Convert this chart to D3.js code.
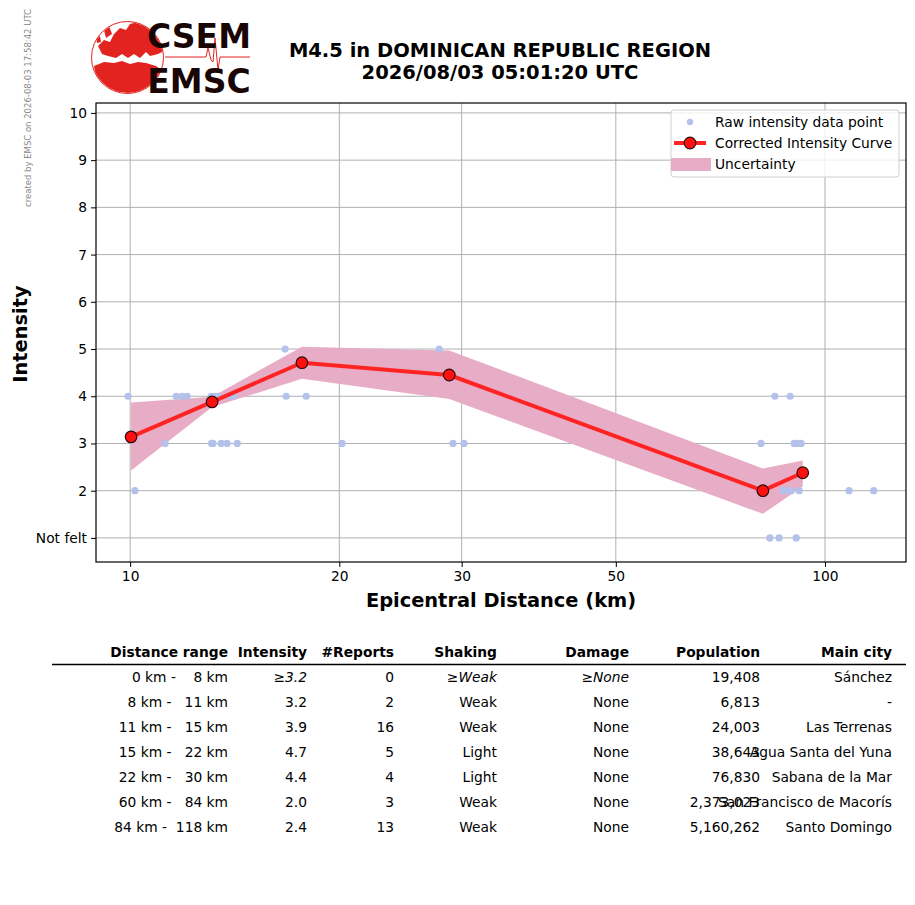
<!DOCTYPE html>
<html lang="en">
<head>
<meta charset="utf-8" />
<title>EMSC intensity</title>
<style>
    body { margin: 0; background: white; font-family: 'DejaVu Sans', sans-serif; }
    .grid line { stroke: #b0b0b0; stroke-width: 1; }
    .tbl text { font-size: 13.8px; fill: #000; white-space: pre; }
    .tbl .hdr { font-weight: bold; }
</style>
<script src="https://d3js.org/d3.v7.min.js"></script>
</head>
<body>
<svg id="vis" width="915" height="905"></svg>
<script>
    // raw reports: distance (km), intensity (1 = not felt)
    var rawDist = [9.93, 10.16, 11.23, 11.65, 11.88, 12.08, 13.08, 13.16, 13.25, 13.52, 13.79, 13.93, 14.11, 14.26,
        13.1, 13.4, 16.71, 16.77, 17.92, 20.18, 27.84, 29.15, 30.23,
        80.9, 81.4, 83.3, 84.7, 85.9, 87.0, 88.5, 89.1, 89.4, 90.3, 90.9, 91.1, 91.8, 92.4, 108.3, 117.5];
    var rawInt = [4, 2, 3, 4, 4, 4, 4, 3, 4, 3, 3, 4, 4, 3,
        3, 4, 5, 4, 4, 3, 5, 3, 3,
        3, 2, 1, 4, 1, 2, 2, 4, 2, 3, 1, 3, 2, 3, 2, 2];

    // corrected curve and uncertainty band
    var curveDist = [10.03, 13.12, 17.67, 28.79, 81.4, 92.9];
    var curveInt = [3.14, 3.88, 4.71, 4.45, 2.0, 2.38];
    var bandUpper = [3.87, 3.99, 5.05, 4.97, 2.47, 2.64];
    var bandLower = [2.43, 3.77, 4.37, 3.94, 1.51, 2.09];

    var xTicks = [10, 20, 30, 50, 100];
    var yTicks = [1, 2, 3, 4, 5, 6, 7, 8, 9, 10];
    var yTickLabels = ["Not felt", "2", "3", "4", "5", "6", "7", "8", "9", "10"];

    // summary table
    var tblHeaders = ["Distance range", "Intensity", "#Reports", "Shaking", "Damage", "Population", "Main city"];
    var rangeFrom = [0, 8, 11, 15, 22, 60, 84];
    var rangeTo = [8, 11, 15, 22, 30, 84, 118];
    var tblIntensity = ["\u22653.2", "3.2", "3.9", "4.7", "4.4", "2.0", "2.4"];
    var tblReports = ["0", "2", "16", "5", "4", "3", "13"];
    var tblShaking = ["\u2265Weak", "Weak", "Weak", "Light", "Light", "Weak", "Weak"];
    var tblDamage = ["\u2265None", "None", "None", "None", "None", "None", "None"];
    var tblPopulation = ["19,408", "6,813", "24,003", "38,643", "76,830", "2,373,023", "5,160,262"];
    var tblCity = ["S\u00e1nchez", "-", "Las Terrenas", "Agua Santa del Yuna", "Sabana de la Mar", "San Francisco de Macor\u00eds", "Santo Domingo"];

    var svg = d3.select("#vis");
    var plot = { left: 96, right: 906, top: 103, bottom: 562 };

    var x = d3.scaleLog().domain([8.93, 130.8]).range([plot.left, plot.right]);
    var y = d3.scaleLinear().domain([0.49, 10.21]).range([plot.bottom, plot.top]);

    // watermark
    svg.append("text").attr("transform", "translate(31,108) rotate(-90)")
        .attr("text-anchor", "middle").attr("font-size", "8.5px").attr("fill", "#888")
        .text("created by EMSC on 2026-08-03 17:58:42 UTC");

    // logo
    var logo = svg.append("g").attr("class", "logo");
    logo.append("clipPath").attr("id", "globe").append("circle").attr("cx", 127.5).attr("cy", 57.5).attr("r", 35.5);
    var map = logo.append("g").attr("clip-path", "url(#globe)");
    // europe
    map.append("path").attr("fill", "#e3231f")
        .attr("d", "M98,46 L104,40 L110,42 L114,34 L120,28 L126,30 L130,24 L138,22 L146,26 L156,30 L164,36 L166,50 L158,54 L150,56 L146,52 L140,58 L134,54 L128,58 L122,54 L116,58 L108,56 L102,54 Z");
    // britain, iberia islands
    map.append("path").attr("fill", "#e3231f")
        .attr("d", "M104,30 L109,26 L112,34 L106,38 Z M96,38 L100,36 L101,42 L97,43 Z");
    // africa
    map.append("path").attr("fill", "#e3231f")
        .attr("d", "M94,66 L104,62 L114,63 L122,61 L130,64 L138,62 L146,63 L156,66 L164,72 L162,84 L152,90 L136,94 L118,92 L104,86 L96,78 Z");
    logo.append("circle").attr("cx", 127.5).attr("cy", 57.5).attr("r", 36)
        .attr("fill", "none").attr("stroke", "#e3231f").attr("stroke-width", 1);
    logo.append("path").attr("fill", "none").attr("stroke", "#e3231f").attr("stroke-width", 1)
        .attr("d", "M165,57 L206,57 L208,48 L211,60 L213,62 L215,38 L218,70 L220,57 L250,57");
    logo.append("text").attr("x", 199).attr("y", 48).attr("text-anchor", "middle")
        .attr("font-size", "33px").attr("font-weight", "bold").attr("fill", "#1a0505").text("CSEM");
    logo.append("text").attr("x", 199).attr("y", 93).attr("text-anchor", "middle")
        .attr("font-size", "33px").attr("font-weight", "bold").attr("fill", "#1a0505").text("EMSC");

    // title
    svg.append("text").attr("x", 500).attr("y", 57).attr("text-anchor", "middle")
        .attr("font-size", "19.5px").attr("font-weight", "bold").text("M4.5 in DOMINICAN REPUBLIC REGION");
    svg.append("text").attr("x", 500).attr("y", 79).attr("text-anchor", "middle")
        .attr("font-size", "19.5px").attr("font-weight", "bold").text("2026/08/03 05:01:20 UTC");

    // grid
    var grid = svg.append("g").attr("class", "grid");
    grid.selectAll("line.gx").data(xTicks).enter().append("line").attr("class", "gx")
        .attr("x1", function (d) { return x(d); }).attr("x2", function (d) { return x(d); })
        .attr("y1", plot.top).attr("y2", plot.bottom);
    grid.selectAll("line.gy").data(yTicks).enter().append("line").attr("class", "gy")
        .attr("x1", plot.left).attr("x2", plot.right)
        .attr("y1", function (d) { return y(d); }).attr("y2", function (d) { return y(d); });

    // uncertainty band
    var bandIdx = d3.range(curveDist.length);
    var area = d3.area()
        .x(function (i) { return x(curveDist[i]); })
        .y0(function (i) { return y(bandLower[i]); })
        .y1(function (i) { return y(bandUpper[i]); });
    svg.append("path").datum(bandIdx).attr("d", area).attr("fill", "#e8adc6");

    // raw points
    svg.append("g").selectAll("circle").data(d3.range(rawDist.length)).enter().append("circle")
        .attr("cx", function (i) { return x(rawDist[i]); })
        .attr("cy", function (i) { return y(rawInt[i]); })
        .attr("r", 3.6).attr("fill", "#b3c1eb");

    // corrected curve
    var line = d3.line().x(function (i) { return x(curveDist[i]); }).y(function (i) { return y(curveInt[i]); });
    svg.append("path").datum(bandIdx).attr("d", line).attr("fill", "none")
        .attr("stroke", "#ff2424").attr("stroke-width", 4).attr("stroke-linejoin", "round");
    svg.append("g").selectAll("circle").data(bandIdx).enter().append("circle")
        .attr("cx", function (i) { return x(curveDist[i]); })
        .attr("cy", function (i) { return y(curveInt[i]); })
        .attr("r", 5.8).attr("fill", "#ff1010").attr("stroke", "#2a0a0a").attr("stroke-width", 1.2);

    // axes
    var xAxis = d3.axisBottom(x).tickValues(xTicks).tickFormat(d3.format("d")).tickSize(5).tickPadding(4);
    var gx = svg.append("g").attr("transform", "translate(0," + plot.bottom + ")").call(xAxis);
    var yAxis = d3.axisLeft(y).tickValues(yTicks).tickFormat(function (d, i) { return yTickLabels[i]; }).tickSize(5).tickPadding(4);
    var gy = svg.append("g").attr("transform", "translate(" + plot.left + ",0)").call(yAxis);
    [gx, gy].forEach(function (g) {
        g.select(".domain").remove();
        g.selectAll(".tick text").attr("font-family", "DejaVu Sans").attr("font-size", "13.8px").attr("fill", "#000");
        g.selectAll(".tick line").attr("stroke", "#000");
    });
    svg.append("rect").attr("x", plot.left).attr("y", plot.top)
        .attr("width", plot.right - plot.left).attr("height", plot.bottom - plot.top)
        .attr("fill", "none").attr("stroke", "#000").attr("stroke-width", 1.2);

    svg.append("text").attr("x", 501).attr("y", 607).attr("text-anchor", "middle")
        .attr("font-size", "19.4px").attr("font-weight", "bold").text("Epicentral Distance (km)");
    svg.append("text").attr("transform", "translate(27,334) rotate(-90)").attr("text-anchor", "middle")
        .attr("font-size", "19.4px").attr("font-weight", "bold").text("Intensity");

    // legend
    var leg = svg.append("g").attr("transform", "translate(671,110)");
    leg.append("rect").attr("width", 228).attr("height", 67).attr("rx", 3)
        .attr("fill", "white").attr("fill-opacity", 0.8).attr("stroke", "#d0d0d0");
    leg.append("circle").attr("cx", 19).attr("cy", 12).attr("r", 3.2).attr("fill", "#b3c1eb");
    leg.append("line").attr("x1", 3).attr("x2", 35).attr("y1", 33).attr("y2", 33)
        .attr("stroke", "#ff2424").attr("stroke-width", 4);
    leg.append("circle").attr("cx", 19).attr("cy", 33).attr("r", 5.8)
        .attr("fill", "#ff1010").attr("stroke", "#2a0a0a").attr("stroke-width", 1.2);
    leg.append("rect").attr("x", 0).attr("y", 48).attr("width", 40).attr("height", 13).attr("fill", "#e8adc6");
    var legLabels = ["Raw intensity data point", "Corrected Intensity Curve", "Uncertainty"];
    leg.selectAll("text.lab").data(legLabels).enter().append("text").attr("class", "lab")
        .attr("x", 44).attr("y", function (d, i) { return 17 + i * 21; })
        .attr("font-size", "13.8px").text(function (d) { return d; });

    // table
    var tbl = svg.append("g").attr("class", "tbl");
    var colRight = [228, 307, 394, 497, 629, 760, 892];
    tbl.selectAll("text.hdr").data(tblHeaders).enter().append("text").attr("class", "hdr")
        .attr("x", function (d, i) { return colRight[i]; }).attr("y", 657)
        .attr("text-anchor", "end").text(function (d) { return d; });
    tbl.append("line").attr("x1", 52).attr("x2", 906).attr("y1", 664.5).attr("y2", 664.5)
        .attr("stroke", "#000").attr("stroke-width", 1.3);

    var rowY = function (i) { return 682 + i * 25; };
    var rangeText = rangeFrom.map(function (f, i) {
        return f + " km -  " + String(rangeTo[i]).padStart(3, " ") + " km";
    });
    var cols = [rangeText, tblIntensity, tblReports, tblShaking, tblDamage, tblPopulation, tblCity];
    cols.forEach(function (col, c) {
        tbl.selectAll("text.c" + c).data(col).enter().append("text").attr("class", "c" + c)
            .attr("x", colRight[c]).attr("y", function (d, i) { return rowY(i); })
            .attr("text-anchor", "end")
            .attr("font-style", function (d, i) { return i === 0 && (c === 1 || c === 3 || c === 4) ? "italic" : null; })
            .text(function (d) { return d; });
    });
</script>
</body>
</html>
